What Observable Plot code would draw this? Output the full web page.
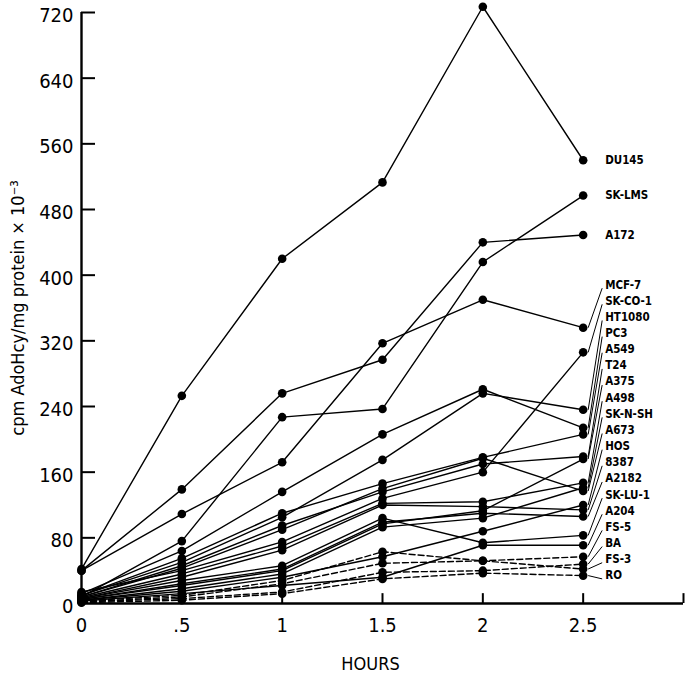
<!DOCTYPE html>
<html><head><meta charset="utf-8">
<script src="https://cdn.jsdelivr.net/npm/d3@7"></script>
<script src="https://cdn.jsdelivr.net/npm/@observablehq/plot@0.6"></script>
<style>body{margin:0;background:#fff} svg text{font-stretch:condensed}</style>
</head><body><div id="chart"></div>
<script>
// ---- data ----
const hours = [0, 0.5, 1, 1.5, 2, 2.5];
const xTicks = [0, 0.5, 1, 1.5, 2, 2.5, 3];
const xTickLabels = ["0", ".5", "1", "1.5", "2", "2.5", ""];
const yTicks = [0, 80, 160, 240, 320, 400, 480, 560, 640, 720];
const yTitle = "cpm AdoHcy/mg protein \u00d7 10\u207b\u00b3";
const xTitle = "HOURS";

const cellLines = ["DU145", "SK-LMS", "A172", "MCF-7", "SK-CO-1", "HT1080", "PC3", "A549", "T24", "A375",
  "A498", "SK-N-SH", "A673", "HOS", "8387", "A2182", "SK-LU-1", "A204", "FS-5", "BA", "FS-3", "RO"];
const dashedLines = ["FS-5", "BA", "FS-3", "RO"];
const stackedLabels = ["MCF-7", "SK-CO-1", "HT1080", "PC3", "A549", "T24", "A375", "A498", "SK-N-SH", "A673",
  "HOS", "8387", "A2182", "SK-LU-1", "A204", "FS-5", "BA", "FS-3", "RO"];

const vDU145  = [42, 253, 420, 513, 727, 540];
const vSKLMS  = [8, 76, 227, 237, 416, 497];
const vA172   = [40, 139, 256, 297, 440, 449];
const vMCF7   = [40, 109, 172, 317, 370, 336];
const vSKCO1  = [14, 40, 75, 128, 160, 306];
const vHT1080 = [10, 50, 105, 175, 256, 236];
const vPC3    = [12, 64, 136, 206, 261, 214];
const vA549   = [10, 55, 110, 146, 178, 206];
const vT24    = [8, 46, 95, 136, 170, 179];
const vA375   = [5, 22, 40, 97, 113, 176];
const vA498   = [7, 36, 70, 122, 124, 147];
const vSKNSH  = [4, 18, 36, 93, 104, 141];
const vA673   = [8, 43, 90, 140, 177, 137];
const vHOS    = [4, 15, 32, 57, 88, 120];
const v8387   = [6, 32, 65, 120, 118, 114];
const vA2182  = [5, 24, 42, 99, 110, 106];
const vSKLU1  = [6, 28, 46, 104, 74, 83];
const vA204   = [3, 12, 22, 32, 71, 71];
const vFS5    = [3, 10, 28, 63, 52, 57];
const vBA     = [2, 6, 14, 38, 40, 48];
const vFS3    = [2, 8, 24, 49, 52, 42];
const vRO     = [1, 4, 12, 30, 37, 34];

const seriesValues = [vDU145, vSKLMS, vA172, vMCF7, vSKCO1, vHT1080, vPC3, vA549, vT24, vA375,
  vA498, vSKNSH, vA673, vHOS, v8387, vA2182, vSKLU1, vA204, vFS5, vBA, vFS3, vRO];

// ---- build table ----
const rows = [];
cellLines.forEach((name, i) => {
  hours.forEach((t, j) => rows.push({name, t, v: seriesValues[i][j], dashed: dashedLines.includes(name)}));
});

const W = 685, H = 681, mL = 81, mR = 2, mT = 12, mB = 78;
const pxPerHour = (W - mL - mR) / 3;
const pxPerUnit = (H - mT - mB) / 720;
const font = "'DejaVu Sans Condensed', 'DejaVu Sans', sans-serif";

// label layout
const labelX = 2.5 + 22 / pxPerHour;
const endOf = name => seriesValues[cellLines.indexOf(name)][hours.length - 1];
const step = 16.15 / pxPerUnit;
const base = endOf("RO");
const labels = cellLines.map(name => {
  const k = stackedLabels.indexOf(name);
  const ly = k < 0 ? endOf(name) : base + (stackedLabels.length - 1 - k) * step;
  return {name, ly, end: endOf(name), stacked: k >= 0};
});
const leaders = labels.filter(d => d.stacked);

const plot = Plot.plot({
  width: W, height: H,
  marginLeft: mL, marginRight: mR, marginTop: mT, marginBottom: mB,
  style: {fontFamily: font, fontSize: "20px", color: "#000", background: "#fff", overflow: "visible"},
  x: {domain: [0, 3]},
  y: {domain: [0, 720]},
  marks: [
    Plot.axisY({ticks: yTicks, tickSize: 0, tickPadding: 8, dy: 3, label: null, fontSize: 20}),
    Plot.axisX({ticks: xTicks, tickSize: 0, tickPadding: 14, label: null, fontSize: 20,
      tickFormat: d => xTickLabels[xTicks.indexOf(d)] ?? ""}),
    Plot.ruleY(yTicks.filter(v => v > 0), {x1: 0, x2: 14 / pxPerHour, strokeWidth: 2}),
    Plot.ruleX(xTicks.filter(t => t > 0), {y1: 0, y2: 12, strokeWidth: 2}),
    Plot.ruleX([0], {y1: 0, y2: 720, strokeWidth: 2.4}),
    Plot.ruleY([0], {x1: 0, x2: 3, strokeWidth: 2.4}),
    Plot.line(rows.filter(d => !d.dashed), {x: "t", y: "v", z: "name", stroke: "#000", strokeWidth: 1.4}),
    Plot.line(rows.filter(d => d.dashed), {x: "t", y: "v", z: "name", stroke: "#000", strokeWidth: 1.4, strokeDasharray: "6,3"}),
    Plot.dot(rows, {x: "t", y: "v", r: 4.3, fill: "#000"}),
    Plot.link(leaders, {x1: 2.5 + 5 / pxPerHour, y1: "end", x2: 2.5 + 19 / pxPerHour, y2: d => d.ly - 4, stroke: "#000", strokeWidth: 1}),
    Plot.text(labels, {x: labelX, y: "ly", text: "name", textAnchor: "start", fontSize: 11.5, fontWeight: "bold"}),
    Plot.text([yTitle], {text: d => d, frameAnchor: "left", textAnchor: "middle", rotate: -90, dx: -63, fontSize: 18}),
    Plot.text([xTitle], {text: d => d, frameAnchor: "bottom", dy: 66, dx: -12, fontSize: 18})
  ]
});
document.getElementById("chart").appendChild(plot);
</script>
</body></html>
